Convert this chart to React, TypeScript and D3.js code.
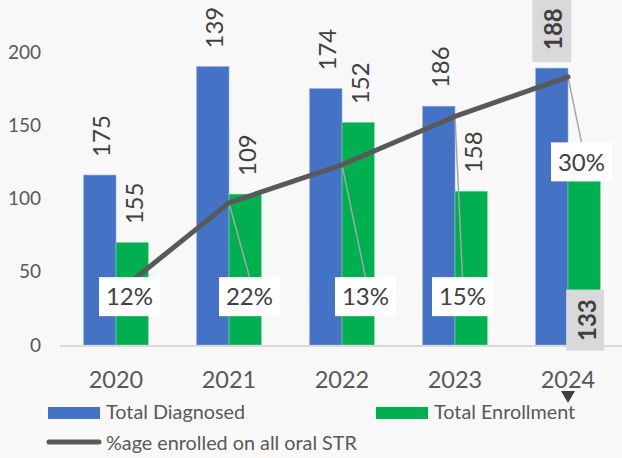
import React from 'react';
import * as d3 from 'd3';

const years = ['2020', '2021', '2022', '2023', '2024'];
const diagnosed = [116, 190, 175, 163, 189];
const enrollment = [70, 103, 152, 105, 112];
const diagnosedLabels = ['175', '139', '174', '186', '188'];
const enrollmentLabels = ['155', '109', '152', '158', '133'];
const pctLine = [35, 97, 123, 156, 183];
const pctLabels = ['12%', '22%', '13%', '15%', '30%'];
const yTicks = [0, 50, 100, 150, 200];

// label layout: [dx from category centre, y value of box centre]
const pctLabelLayout: [number, number][] = [
  [13.5, 33],
  [20.5, 33],
  [23.5, 33],
  [7.5, 33],
  [13.5, 125],
];

const W = 622;
const H = 458;
const FONT = 'Lato, "Open Sans", sans-serif';
const BLUE = '#4472c4';
const GREEN = '#00b050';
const TEXT = '#404040';
const AXIS_TEXT = '#595959';

export default function App() {
  const y = d3.scaleLinear().domain([0, 200]).range([345, 52]);
  const x0 = d3.scaleBand<string>().domain(years).range([59.5, 624.5]).padding(0);
  const bw = x0.bandwidth();
  const barW = 32.3;
  const x1 = d3
    .scaleBand<string>()
    .domain(['d', 'e'])
    .range([bw / 2 - barW, bw / 2 + barW])
    .padding(0);
  const cx = (i: number) => (x0(years[i]) as number) + bw / 2;

  const line = d3
    .line<number>()
    .x((_, i) => cx(i))
    .y((v) => y(v));

  return (
    <svg
      width={W}
      height={H}
      style={{ position: 'absolute', left: 0, top: 0, background: '#f8f8f8' }}
      fontFamily={FONT}
    >
      <rect x={0} y={0} width={W} height={H} fill="#f8f8f8" />
      {yTicks.map((t) => (
        <text
          key={t}
          x={41}
          y={y(t)}
          dy="0.35em"
          textAnchor="end"
          fontSize={19}
          fill={AXIS_TEXT}
        >
          {t}
        </text>
      ))}
      {years.map((yr, i) => {
        const bx = x0(yr) as number;
        return (
          <g key={yr}>
            <rect
              x={bx + (x1('d') as number)}
              y={y(diagnosed[i])}
              width={x1.bandwidth()}
              height={y(0) - y(diagnosed[i])}
              fill={BLUE}
              stroke="#8faadc"
              strokeWidth={0.6}
            />
            <rect
              x={bx + (x1('e') as number)}
              y={y(enrollment[i])}
              width={x1.bandwidth()}
              height={y(0) - y(enrollment[i])}
              fill={GREEN}
              stroke="#7fd7a7"
              strokeWidth={0.6}
            />
          </g>
        );
      })}
      <line x1={60} x2={W} y1={y(0) + 1} y2={y(0) + 1} stroke="#d9d9d9" strokeWidth={2} />
      {years.map((yr, i) =>
        i === 0 ? null : (
          <line
            key={'ld' + yr}
            x1={cx(i)}
            y1={y(pctLine[i])}
            x2={cx(i) + pctLabelLayout[i][0]}
            y2={y(pctLabelLayout[i][1]) - 19.5}
            stroke="#a6a6a6"
            strokeWidth={1.5}
          />
        )
      )}
      <path
        d={line(pctLine) as string}
        fill="none"
        stroke="#595959"
        strokeWidth={5}
        strokeLinejoin="round"
        strokeLinecap="round"
      />
      {years.map((yr, i) => {
        const bx = x0(yr) as number;
        const dxC = bx + (x1('d') as number) + x1.bandwidth() / 2;
        const exC = bx + (x1('e') as number) + x1.bandwidth() / 2;
        const last = i === years.length - 1;
        const dy = y(diagnosed[i]) - 39;
        const ey = last ? y(17) : y(enrollment[i]) - 39;
        const ex = last ? exC + 2 : exC + 1;
        return (
          <g key={'lab' + yr}>
            {last && <rect x={dxC - 19.5} y={dy - 38} width={39} height={71} fill="#d9d9d9" />}
            <text
              transform={`translate(${dxC + 1},${dy}) rotate(-90)`}
              textAnchor="middle"
              dominantBaseline="central"
              fontSize={24}
              fontWeight={last ? 700 : 400}
              fill={TEXT}
            >
              {diagnosedLabels[i]}
            </text>
            {last && <rect x={ex - 20} y={ey - 30.5} width={38} height={61} fill="#d9d9d9" />}
            <text
              transform={`translate(${ex},${ey}) rotate(-90)`}
              textAnchor="middle"
              dominantBaseline="central"
              fontSize={24}
              fontWeight={last ? 700 : 400}
              fill={TEXT}
            >
              {enrollmentLabels[i]}
            </text>
          </g>
        );
      })}
      {years.map((yr, i) => {
        const px = cx(i) + pctLabelLayout[i][0];
        const py = y(pctLabelLayout[i][1]);
        return (
          <g key={'pct' + yr}>
            <rect x={px - 30.5} y={py - 19.5} width={61} height={39} fill="#ffffff" />
            <text x={px} y={py} dy="0.36em" textAnchor="middle" fontSize={24} fill={TEXT}>
              {pctLabels[i]}
            </text>
          </g>
        );
      })}
      {years.map((yr, i) => (
        <text
          key={'x' + yr}
          x={cx(i)}
          y={388}
          textAnchor="middle"
          fontSize={23.5}
          fill={AXIS_TEXT}
        >
          {yr}
        </text>
      ))}
      <path
        d={`M${cx(4) - 7},${391} L${cx(4) + 7},${391} L${cx(4)},${403} Z`}
        fill="#404040"
      />
      <rect x={48} y={407} width={52} height={12} fill={BLUE} />
      <text x={106} y={419} fontSize={19.8} fill={AXIS_TEXT}>
        Total Diagnosed
      </text>
      <rect x={376} y={407} width={52} height={12} fill={GREEN} />
      <text x={434} y={419} fontSize={19.8} fill={AXIS_TEXT}>
        Total Enrollment
      </text>
      <line x1={49} x2={99} y1={442} y2={442} stroke="#595959" strokeWidth={5} strokeLinecap="round" />
      <text x={106} y={450} fontSize={19.8} fill={AXIS_TEXT}>
        %age enrolled on all oral STR
      </text>
    </svg>
  );
}
